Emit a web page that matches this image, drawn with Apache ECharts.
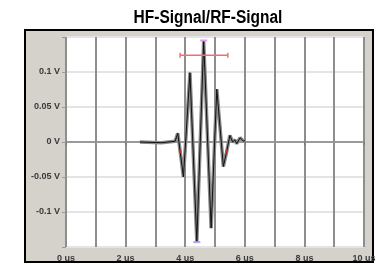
<!DOCTYPE html>
<html>
<head>
<meta charset="utf-8">
<script src="https://cdn.jsdelivr.net/npm/echarts@6/dist/echarts.min.js"></script>
<style>
  html, body { margin: 0; padding: 0; background: #fff; }
  #chart { width: 379px; height: 265px; }
</style>
</head>
<body>
<div id="chart"></div>
<script>
// signal samples (time in us, amplitude in V)
const times  = [2.48, 3.2, 3.66, 3.75, 3.83, 3.94, 4.16, 4.39, 4.62, 4.87, 5.06, 5.28, 5.39, 5.50, 5.59, 5.67, 5.73, 5.84, 5.95, 6.01]
const volts  = [0, -0.001, 0.001, 0.0125, -0.013, -0.05, 0.099, -0.142, 0.144, -0.123, 0.0755, -0.035, -0.014, 0.0094, 0, 0.003, -0.0024, 0.006, 0.0014, 0.002]

// markers
const widthBarT = [3.83, 5.43]
const widthBarV = 0.124
const redDotsT = [3.83, 5.39]
const redDotsV = [-0.014, -0.014]
const maxPeak = [4.62, 0.145]
const minPeak = [4.39, -0.143]

const xTicks = [0, 2, 4, 6, 8, 10]

const signal = times.map((t, i) => [t, volts[i]])

const chart = echarts.init(document.getElementById('chart'))

const gridCol = '#8e8e8e'
const hLine = '#e4e4e4'
const labelFont = '"Liberation Sans", Arial, sans-serif'

chart.setOption({
  animation: false,
  graphic: [
    {
      type: 'rect',
      z: -10,
      shape: { x: 25, y: 30, width: 348, height: 232 },
      style: { fill: '#d5d2cc', stroke: '#000', lineWidth: 2 }
    },
    {
      // title, squeezed to look like a narrow font
      type: 'text',
      x: 208,
      y: 18,
      scaleX: 0.86,
      style: {
        text: 'HF-Signal/RF-Signal',
        fontFamily: labelFont,
        fontSize: 18,
        fontWeight: 'bold',
        fill: '#000',
        align: 'center',
        verticalAlign: 'middle'
      }
    }
  ],
  grid: {
    left: 66, right: 15, top: 37, bottom: 18,
    show: true,
    backgroundColor: '#fff',
    borderWidth: 0
  },
  xAxis: {
    type: 'value',
    min: 0, max: 10, interval: 2,
    axisLine: { show: false },
    axisTick: { show: true, length: 3, lineStyle: { color: '#777' } },
    axisLabel: {
      margin: 7,
      fontSize: 9,
      fontWeight: 'bold',
      color: '#3a3a3a',
      fontFamily: labelFont,
      formatter: v => xTicks.includes(v) ? v + ' us' : ''
    },
    splitLine: { show: true, lineStyle: { color: gridCol, width: 2 } },
    minorTick: { show: true, splitNumber: 2, length: 2, lineStyle: { color: '#999' } },
    minorSplitLine: { show: true, lineStyle: { color: gridCol, width: 2 } }
  },
  yAxis: {
    type: 'value',
    min: -0.15, max: 0.15, interval: 0.05,
    axisLine: { show: false },
    axisTick: { show: true, length: 4, lineStyle: { color: '#999' } },
    axisLabel: {
      margin: 6,
      fontSize: 9,
      fontWeight: 'bold',
      color: '#3a3a3a',
      fontFamily: labelFont,
      formatter: v => {
        const r = Math.round(v * 100) / 100
        if (Math.abs(r) > 0.12) return ''
        return r + ' V'
      }
    },
    splitLine: {
      show: true,
      lineStyle: {
        color: [hLine, hLine, hLine, '#9a9a9a', hLine, hLine, hLine],
        width: 2
      }
    }
  },
  series: [
    {
      type: 'line',
      data: signal,
      symbol: 'none',
      lineStyle: { color: '#8a8a8a', width: 3.5 },
      z: 3
    },
    {
      type: 'line',
      data: signal,
      symbol: 'none',
      lineStyle: { color: '#111', width: 1 },
      z: 4
    },
    {
      type: 'line',
      data: widthBarT.map(t => [t, widthBarV]),
      symbol: 'rect',
      symbolSize: [1.5, 5],
      itemStyle: { color: '#f07070' },
      lineStyle: { color: '#f07070', width: 1.5 },
      z: 5
    },
    {
      type: 'scatter',
      data: redDotsT.map((t, i) => [t, redDotsV[i]]),
      symbolSize: 3,
      itemStyle: { color: '#ff2020' },
      z: 6
    },
    {
      type: 'scatter',
      data: [maxPeak],
      symbol: 'rect',
      symbolSize: [7, 2],
      itemStyle: { color: '#e080f0' },
      z: 6
    },
    {
      type: 'scatter',
      data: [minPeak],
      symbol: 'rect',
      symbolSize: [7, 2],
      itemStyle: { color: '#9090ff' },
      z: 6
    }
  ]
})
</script>
</body>
</html>
